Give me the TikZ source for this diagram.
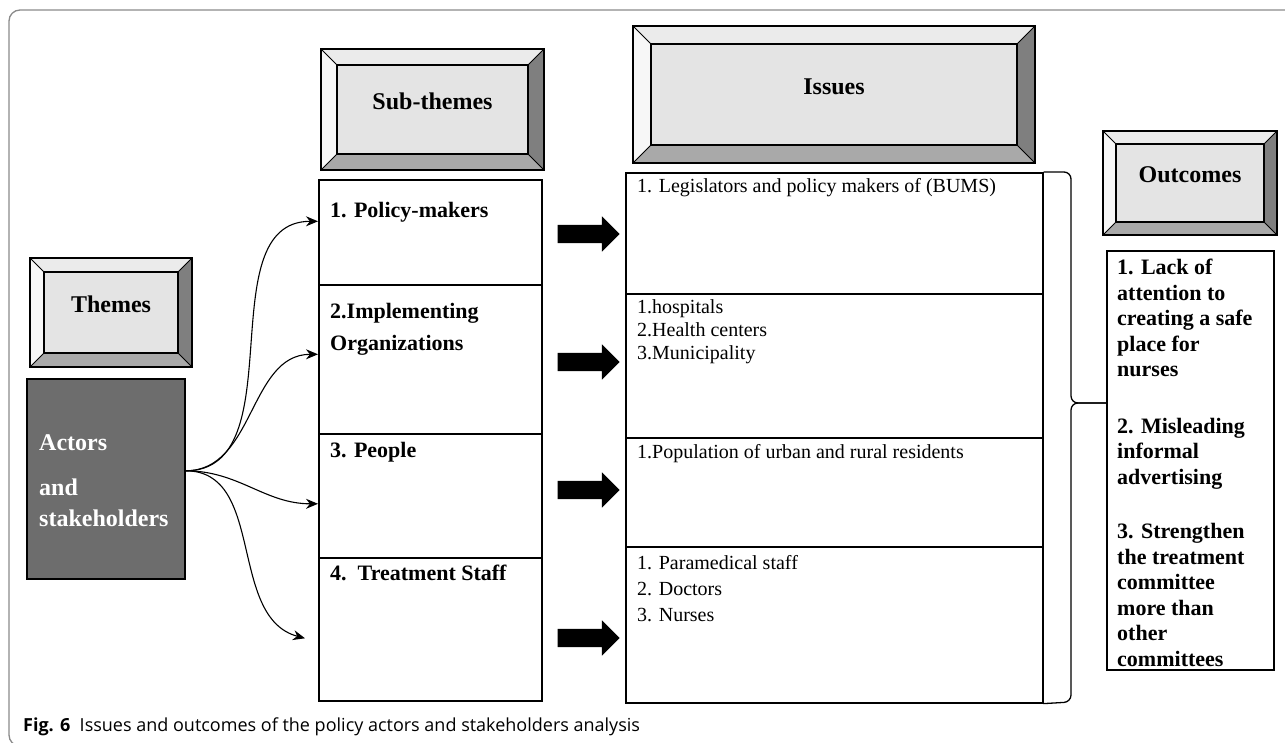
\documentclass[tikz,border=0pt]{standalone}
\usepackage{fontspec}
\setmainfont{Liberation Serif}
\newfontfamily\capfont{Open Sans}
\usetikzlibrary{arrows.meta}
\usetikzlibrary{shapes.arrows}

\definecolor{bevface}{HTML}{E4E4E4}
\definecolor{bevtop}{HTML}{EBEBEB}
\definecolor{bevleft}{HTML}{F7F7F7}
\definecolor{bevright}{HTML}{7F7F7F}
\definecolor{bevbottom}{HTML}{A9A9A9}
\definecolor{actgray}{HTML}{6D6D6D}
\definecolor{framegray}{HTML}{8A8A8A}

\newcommand{\bevelbox}[7]{%
\fill[bevface] (#2,#3) rectangle (#4,#5);
\fill[bevtop] (#2,#3) -- (#4,#3) -- ({#4-#6},{#3+#6}) -- ({#2+#6},{#3+#6}) -- cycle;
\fill[bevleft] (#2,#3) -- ({#2+#6},{#3+#6}) -- ({#2+#6},{#5-#6}) -- (#2,#5) -- cycle;
\fill[bevright] (#4,#3) -- (#4,#5) -- ({#4-#6},{#5-#6}) -- ({#4-#6},{#3+#6}) -- cycle;
\fill[bevbottom] (#2,#5) -- (#4,#5) -- ({#4-#6},{#5-#6}) -- ({#2+#6},{#5-#6}) -- cycle;
\draw[line width=0.8pt] (#2,#3) -- ({#2+#6},{#3+#6}) (#4,#3) -- ({#4-#6},{#3+#6}) (#2,#5) -- ({#2+#6},{#5-#6}) (#4,#5) -- ({#4-#6},{#5-#6});
\draw[line width=1.2pt] ({#2+#6},{#3+#6}) rectangle ({#4-#6},{#5-#6});
\draw[line width=1.6pt] (#2,#3) rectangle (#4,#5);
\node[headtxt] (#1) at ({(#2+#4)/2},{(#3+#5)/2-8}) {#7};}

\begin{document}
\begin{tikzpicture}[x=1pt,y=-1pt,
  box/.style={draw,line width=1.6pt,inner sep=0pt,anchor=north west},
  headtxt/.style={font=\bfseries\fontsize{24}{28}\selectfont,inner sep=0pt},
  subtxt/.style={font=\bfseries\fontsize{22}{32}\selectfont,inner sep=0pt,anchor=west,align=left},
  isstxt/.style={font=\fontsize{20}{24}\selectfont,inner sep=0pt,anchor=west,align=left},
  blockarrow/.style={single arrow,fill=black,draw=none,inner xsep=0pt,inner ysep=9pt,minimum height=62pt,single arrow head extend=8.5pt,single arrow head indent=0pt},
  curvearrow/.style={line width=1.1pt,-{Stealth[length=12pt,width=10pt]}},
  brace/.style={line width=1.3pt,rounded corners=7pt}]
\useasboundingbox (0,0) rectangle (1285,742);
\draw[framegray,line width=1.3pt,rounded corners=11pt] (9,10) rectangle (1300,746);

\bevelbox{Th}{30}{258}{192}{367}{14}{Themes}
\bevelbox{Sub}{321}{49}{544}{170}{16}{Sub-themes}
\bevelbox{Iss}{633}{26}{1035}{163}{18}{Issues}
\bevelbox{Out}{1103}{131}{1277}{235}{13}{Outcomes}

\node[box,fill=actgray,minimum width=158pt,minimum height=200pt] (Act) at (26,378) {};
\node[font=\bfseries\fontsize{24}{31}\selectfont,text=white,inner sep=0pt,anchor=west,align=left] (ActT) at (39,481) {Actors\\[14pt]and\\stakeholders};

\node[box,minimum width=223pt,minimum height=105pt] (S1) at (318,179) {};
\node[box,minimum width=223pt,minimum height=149pt] (S2) at (318,284) {};
\node[box,minimum width=223pt,minimum height=124pt] (S3) at (318,433) {};
\node[box,minimum width=223pt,minimum height=143pt] (S4) at (318,557) {};
\node[subtxt] (S1T) at (330,212) {1. Policy-makers};
\node[subtxt] (S2T) at (330,329) {2.Implementing\\Organizations};
\node[subtxt] (S3T) at (330,452) {3. People};
\node[subtxt] (S4T) at (330,573) {4.\ \ Treatment Staff};

\node[box,minimum width=417pt,minimum height=121pt] (I1) at (625,172) {};
\node[box,minimum width=417pt,minimum height=144pt] (I2) at (625,293) {};
\node[box,minimum width=417pt,minimum height=109pt] (I3) at (625,437) {};
\node[box,minimum width=417pt,minimum height=156pt] (I4) at (625,546) {};
\node[isstxt] (I1T) at (637,188) {1. Legislators and policy makers of (BUMS)};
\node[isstxt,font=\fontsize{20}{23}\selectfont] (I2T) at (637,332) {1.hospitals\\2.Health centers\\3.Municipality};
\node[isstxt] (I3T) at (637,454) {1.Population of urban and rural residents};
\node[isstxt,font=\fontsize{20}{26}\selectfont] (I4T) at (637,589) {1. Paramedical staff\\2. Doctors\\3. Nurses};

\node[blockarrow] (A1) at (584,234) {};
\node[blockarrow] (A2) at (584,362) {};
\node[blockarrow] (A3) at (584,490) {};
\node[blockarrow] (A4) at (584,638) {};

\draw[curvearrow] ([yshift=8pt]Act.east) to[out=0,in=180] ([yshift=11pt]S1.west);
\draw[curvearrow] ([yshift=8pt]Act.east) to[out=0,in=180] ([yshift=5pt]S2.west);
\draw[curvearrow] ([yshift=8pt]Act.east) to[out=0,in=180] ([yshift=-8pt]S3.west);
\draw[curvearrow] ([yshift=8pt]Act.east) to[out=0,in=165] ([xshift=-13pt,yshift=-9pt]S4.west);

\node[box,minimum width=167pt,minimum height=419pt] (OutB) at (1106,250) {};
\node[font=\bfseries\fontsize{22}{25.5}\selectfont,inner sep=0pt,anchor=north west,align=left] (OutT) at (1117,259) {1. Lack of\\attention to\\creating a safe\\place for\\nurses\\[31pt]2. Misleading\\informal\\advertising\\[29pt]3. Strengthen\\the treatment\\committee\\more than\\other\\committees};

\coordinate (tip) at (OutB.west |- 0,403);
\draw[brace] (I1.north east) -- (1071,172) -- (1071,403) -- (tip);
\draw[brace] (I4.south east) -- (1071,702) -- (1071,403) -- (tip);

\node[font=\capfont\fontsize{18}{21}\selectfont,inner sep=0pt,anchor=west] (Cap) at (23,727) {\textbf{Fig. 6}\ \ Issues and outcomes of the policy actors and stakeholders analysis};
\end{tikzpicture}
\end{document}
